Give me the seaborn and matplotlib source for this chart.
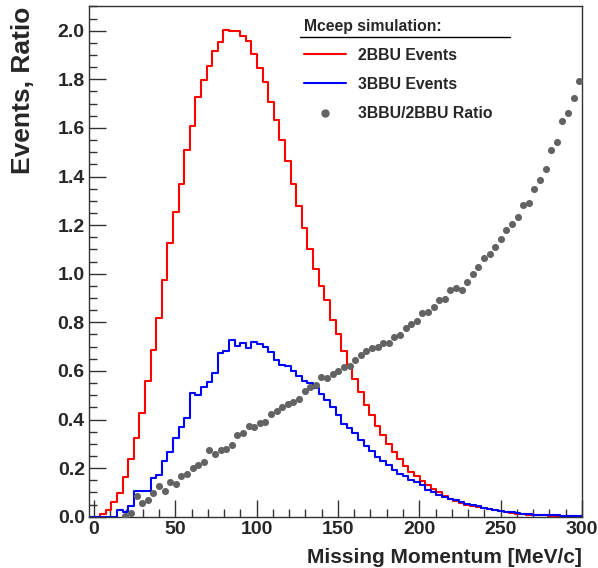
import numpy as np
import pandas as pd
import matplotlib
matplotlib.use('Agg')
import matplotlib.pyplot as plt
from matplotlib.ticker import MultipleLocator, FormatStrFormatter
from matplotlib.lines import Line2D
import seaborn as sns

# Histogram binning: 88 bins from -3 to 300 MeV/c
edges = np.linspace(-3, 300, 89)
centers = 0.5 * (edges[:-1] + edges[1:])

# 2BBU events per bin
events_2bbu = [
    0.0, 0.0, 0.011, 0.026, 0.06, 0.096, 0.165, 0.239, 0.324, 0.428,
    0.558, 0.684, 0.819, 0.975, 1.125, 1.255, 1.37, 1.509, 1.606, 1.726,
    1.797, 1.856, 1.915, 1.955, 2.004, 2.0, 2.0, 1.977, 1.956, 1.904,
    1.848, 1.787, 1.705, 1.634, 1.551, 1.462, 1.37, 1.28, 1.19, 1.10,
    1.02, 0.95, 0.89, 0.811, 0.752, 0.68, 0.623, 0.565, 0.512, 0.46,
    0.417, 0.374, 0.336, 0.299, 0.267, 0.237, 0.21, 0.186, 0.166, 0.145,
    0.13, 0.114, 0.1, 0.084, 0.074, 0.065, 0.056, 0.049, 0.044, 0.04,
    0.035, 0.03, 0.026, 0.022, 0.019, 0.016, 0.013, 0.011, 0.009, 0.008,
    0.007, 0.005, 0.004, 0.004, 0.003, 0.003, 0.002, 0.002,
]

# 3BBU events per bin
events_3bbu = [
    0.0, 0.0, 0.0, 0.0, 0.0, 0.029, 0.019, 0.042, 0.105, 0.105,
    0.105, 0.158, 0.17, 0.229, 0.265, 0.324, 0.369, 0.405, 0.511, 0.50,
    0.535, 0.555, 0.59, 0.675, 0.68, 0.728, 0.704, 0.715, 0.694, 0.719,
    0.709, 0.697, 0.678, 0.646, 0.626, 0.619, 0.598, 0.58, 0.56, 0.55,
    0.53, 0.505, 0.481, 0.451, 0.42, 0.383, 0.365, 0.344, 0.317, 0.289,
    0.269, 0.246, 0.23, 0.214, 0.193, 0.177, 0.166, 0.152, 0.141, 0.132,
    0.111, 0.102, 0.091, 0.081, 0.074, 0.067, 0.059, 0.053, 0.047, 0.042,
    0.036, 0.032, 0.028, 0.024, 0.021, 0.018, 0.015, 0.013, 0.011, 0.009,
    0.008, 0.007, 0.006, 0.005, 0.004, 0.003, 0.003, 0.002,
]

# 3BBU/2BBU ratio, starting at bin 6
ratio_first_bin = 6
ratio_3bbu_2bbu = [
    0.001, 0.015, 0.086, 0.056, 0.07, 0.097, 0.128, 0.107, 0.141, 0.134,
    0.166, 0.176, 0.2, 0.213, 0.226, 0.276, 0.259, 0.276, 0.28, 0.295,
    0.335, 0.344, 0.373, 0.369, 0.385, 0.388, 0.424, 0.436, 0.451, 0.465,
    0.47, 0.484, 0.516, 0.532, 0.543, 0.575, 0.569, 0.588, 0.598, 0.616,
    0.619, 0.643, 0.667, 0.68, 0.693, 0.698, 0.715, 0.715, 0.739, 0.749,
    0.776, 0.794, 0.804, 0.838, 0.841, 0.863, 0.89, 0.896, 0.931, 0.942,
    0.931, 0.964, 1.0, 1.027, 1.064, 1.081, 1.11, 1.143, 1.178, 1.204,
    1.232, 1.283, 1.293, 1.35, 1.387, 1.432, 1.51, 1.54, 1.627, 1.661,
    1.723, 1.795,
]

hist = pd.DataFrame({'p': centers, 'w2': events_2bbu, 'w3': events_3bbu})
ratio = pd.DataFrame({'p': centers[ratio_first_bin:], 'r': ratio_3bbu_2bbu})
bin_list = list(edges)

sns.set_theme(style='ticks')
plt.rcParams['font.family'] = ['Liberation Sans', 'DejaVu Sans']
plt.rcParams['font.weight'] = 'bold'

fig = plt.figure(figsize=(5.98, 5.68), dpi=100)
ax = fig.add_axes([89 / 598, 51.3 / 568, 493 / 598, 510.3 / 568])

sns.histplot(data=hist, x='p', weights='w2', bins=bin_list, element='step', fill=False,
             color='#ff0000', linewidth=1.5, ax=ax)
sns.histplot(data=hist, x='p', weights='w3', bins=bin_list, element='step', fill=False,
             color='#0000ff', linewidth=1.5, ax=ax)
sns.scatterplot(data=ratio, x='p', y='r', color='#636363', s=26,
                linewidth=0, ax=ax, zorder=3)

ax.set_xlim(-3, 300)
ax.set_ylim(0, 2.1)
ax.xaxis.set_major_locator(MultipleLocator(50))
ax.xaxis.set_minor_locator(MultipleLocator(10))
ax.yaxis.set_major_locator(MultipleLocator(0.2))
ax.yaxis.set_minor_locator(MultipleLocator(0.05))
ax.yaxis.set_major_formatter(FormatStrFormatter('%.1f'))
ax.tick_params(which='both', direction='in', top=False, right=False, color='#333333',
               labelsize=14, pad=3)
ax.tick_params(which='major', length=12, width=1)
ax.tick_params(which='minor', length=6, width=1)
for s in ax.spines.values():
    s.set_linewidth(1)
    s.set_color('#333333')

ax.set_xlabel('Missing Momentum [MeV/c]', loc='right', fontsize=15, fontweight='bold', labelpad=7)
ax.set_ylabel('Events, Ratio', loc='top', fontsize=19, fontweight='bold', labelpad=16)

handles = [
    Line2D([], [], color='#ff0000', lw=1.5),
    Line2D([], [], color='#0000ff', lw=1.5),
    Line2D([], [], color='#636363', marker='o', ls='', ms=5),
]
labels = ['2BBU Events', '3BBU Events', '3BBU/2BBU Ratio']
ax.legend(handles, labels, title='Mceep simulation:', loc='upper left',
          bbox_to_anchor=(0.436, 0.976), frameon=False, fontsize=11.3,
          title_fontproperties={'weight': 'bold', 'size': 11.3}, alignment='left',
          handlelength=2.7, handletextpad=0.75, labelspacing=0.9,
          borderpad=0, borderaxespad=0)
ax.add_line(Line2D([0.427, 0.854], [0.941, 0.941], transform=ax.transAxes,
                   color='black', lw=1, clip_on=False))

fig.savefig('out.png', dpi=100)
